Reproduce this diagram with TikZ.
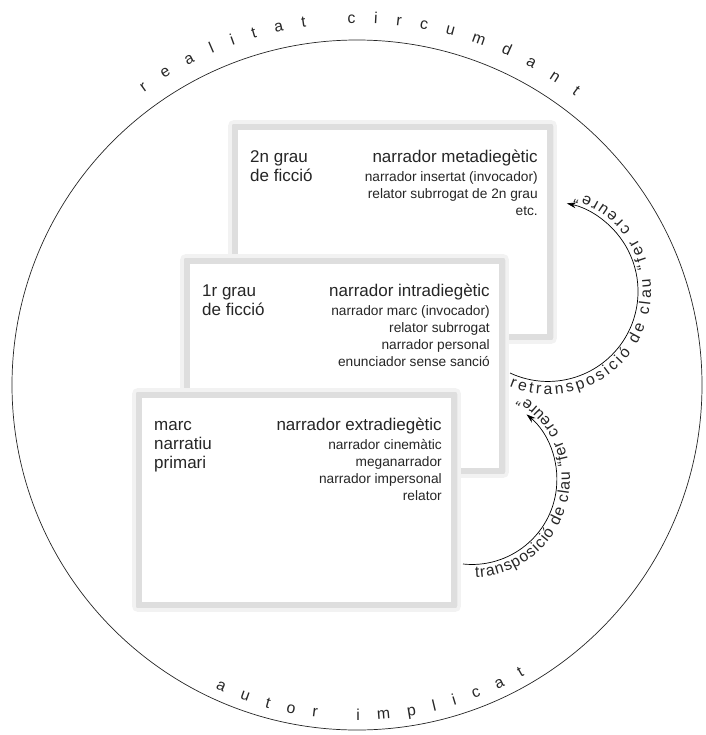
\documentclass[tikz,border=0pt]{standalone}
\usepackage{fontspec}
\setmainfont{Liberation Sans}
\usetikzlibrary{arrows.meta,calc,decorations.text}

\newcommand\bigtxt{\fontsize{14.5pt}{16.2pt}\selectfont}
\newcommand\smalltxt{\fontsize{11.7pt}{14.5pt}\selectfont}
\newcommand\arctxt{\fontsize{13.5pt}{16pt}\selectfont}
\newcommand\clautxt{\fontsize{13.5pt}{15pt}\selectfont}

\tikzset{
  shadowframe/.style={fill=gray!26, draw=gray!10, line width=3pt, rounded corners=3pt},
  paper/.style={fill=white},
  grau/.style={anchor=north west, align=left, inner sep=0, font=\bigtxt, text=black!85},
  narrador/.style={anchor=north east, inner sep=0, font=\bigtxt, text=black!85},
  narradors/.style={anchor=north east, align=right, inner sep=0, font=\smalltxt, text=black!85},
  clau/.style={->, >={Stealth[length=8pt,width=5pt]}, line width=0.6pt},
}

\begin{document}
\begin{tikzpicture}[x=0.03cm,y=0.03cm]
\useasboundingbox (0,0) rectangle (705,-735);
%realitat circumdant
\coordinate (centre) at (357,-385);
\draw[line width=0.6pt, black!85] (centre) circle[radius=345];
\path[decorate, decoration={text along path, text align={fit to path}, text color=black!85,
  text={|\arctxt|realitat circumdant}}] ($(centre)+(126:362)$) arc[start angle=126, end angle=53, radius=362];
%autor implicat
\path[decorate, decoration={text along path, text align={fit to path}, text color=black!85,
  text={|\arctxt|autor implicat}}] ($(centre)+(245:335)$) arc[start angle=245, end angle=300, radius=335];

%2n grau de ficcio
\draw[shadowframe] (230,-122) rectangle (555,-342);
\fill[paper] (238,-130) rectangle (547,-334);
\node (grau2) [grau] at (250,-149) {\strut 2n grau\\de ficció};
\node (meta) [narrador] at (538,-149) {\strut narrador metadiegètic};
\node (meta list) [narradors] at (538,-169) {\strut narrador insertat (invocador)\\relator subrrogat de 2n grau\\etc.};

%1r grau de ficcio
\draw[shadowframe] (182,-256) rectangle (507,-476);
\fill[paper] (190,-264) rectangle (499,-468);
\node (grau1) [grau] at (202,-283) {\strut 1r grau\\de ficció};
\node (intra) [narrador] at (490,-283) {\strut narrador intradiegètic};
\node (intra list) [narradors] at (490,-303) {\strut narrador marc (invocador)\\relator subrrogat\\narrador personal\\enunciador sense sanció};

%marc narratiu primari
\draw[shadowframe] (134,-390) rectangle (459,-610);
\fill[paper] (142,-398) rectangle (451,-602);
\node (marc) [grau] at (154,-417) {\strut marc\\narratiu\\primari};
\node (extra) [narrador] at (442,-417) {\strut narrador extradiegètic};
\node (extra list) [narradors] at (442,-437) {\strut narrador cinemàtic\\meganarrador\\narrador impersonal\\relator};

%retransposicio
\coordinate (retr start) at (510,-373);
\coordinate (retr centre) at (548,-291.4);
\draw[clau] (retr start) arc[start angle=-115, end angle=78, radius=90];
\path[decorate, decoration={text along path, text align={fit to path}, text color=black!85,
  text={|\clautxt|retransposició de clau “fer creure”}}] ($(retr centre)+(-112:103)$) arc[start angle=-112, end angle=74, radius=103];

%transposicio
\coordinate (trans start) at (463,-564);
\coordinate (trans centre) at (471.9,-479.5);
\draw[clau] (trans start) arc[start angle=-96, end angle=50, radius=85];
\path[decorate, decoration={text along path, text align={fit to path}, text color=black!85,
  text={|\clautxt|transposició de clau “fer creure”}}] ($(trans centre)+(-88:98)$) arc[start angle=-88, end angle=60, radius=98];
\end{tikzpicture}
\end{document}
